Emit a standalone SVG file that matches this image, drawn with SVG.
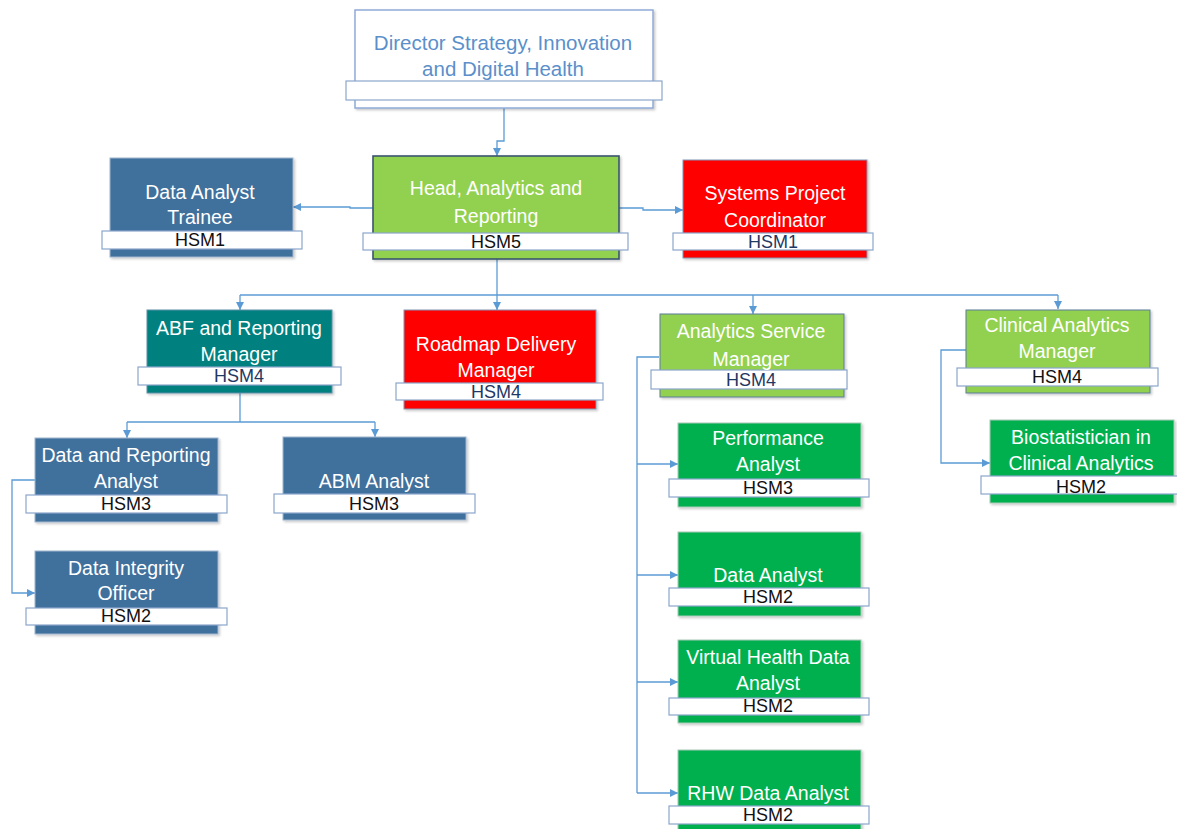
<svg xmlns="http://www.w3.org/2000/svg" width="1177" height="829" viewBox="0 0 1177 829">
  <defs>
    <style>
      .lbl { font-family: "Liberation Sans", Arial, sans-serif; font-size: 19.5px; fill: #ffffff; text-anchor: middle; }
      .dir { font-family: "Liberation Sans", Arial, sans-serif; font-size: 20.5px; fill: #5b8fca; text-anchor: middle; }
      .grade { font-family: "Liberation Sans", Arial, sans-serif; font-size: 18px; fill: #111111; text-anchor: middle; }
      .navy { fill: #1f3864; }
      .bar { fill: #ffffff; stroke: #8aa6cc; stroke-width: 1.2; }
      .box { stroke-width: 1; filter: url(#shadow); }
      .blue { fill: #41709c; stroke: #9fb5cf; }
      .teal { fill: #00807e; stroke: #5f8fa8; }
      .lime { fill: #92d050; stroke: #5d7d9a; }
      .head { fill: #92d050; stroke: #3b556f; stroke-width: 1.6; }
      .red { fill: #ff0000; stroke: #8297b5; }
      .green { fill: #00b050; stroke: #a9c9b5; }
      .white { fill: #ffffff; stroke: #8eaad8; stroke-width: 1.5; }
      .link { fill: none; stroke: #5b9bd5; stroke-width: 1.3; }
    </style>
    <filter id="shadow" x="-5%" y="-5%" width="115%" height="120%">
      <feDropShadow dx="1.5" dy="1.5" stdDeviation="1" flood-color="#000000" flood-opacity="0.22"/>
    </filter>
    <marker id="arrow" viewBox="0 0 8 8" refX="8" refY="4" markerWidth="8" markerHeight="8" markerUnits="userSpaceOnUse" orient="auto">
      <path d="M0,0 L8,4 L0,8 z" fill="#5b9bd5"/>
    </marker>
  </defs>

  <rect width="1177" height="829" fill="#ffffff"/>

  <!-- reporting lines -->
  <g id="connectors">
    <path class="link" d="M504,108 V141 H497 V156" marker-end="url(#arrow)"/>
    <path class="link" d="M373,208 H350 V207 H293" marker-end="url(#arrow)"/>
    <path class="link" d="M619,208 H643 V210 H683" marker-end="url(#arrow)"/>
    <path class="link" d="M497,259 V295"/>
    <path class="link" d="M240,295 H1058"/>
    <path class="link" d="M240,295 V310" marker-end="url(#arrow)"/>
    <path class="link" d="M497,295 V310" marker-end="url(#arrow)"/>
    <path class="link" d="M753,295 V314" marker-end="url(#arrow)"/>
    <path class="link" d="M1058,295 V309" marker-end="url(#arrow)"/>
    <path class="link" d="M240,393 V422 M127,422 H375"/>
    <path class="link" d="M127,422 V438" marker-end="url(#arrow)"/>
    <path class="link" d="M375,422 V437" marker-end="url(#arrow)"/>
    <path class="link" d="M35,480 H12 V593 H35" marker-end="url(#arrow)"/>
    <path class="link" d="M659,357 H637 V793"/>
    <path class="link" d="M637,464 H678" marker-end="url(#arrow)"/>
    <path class="link" d="M637,575 H678" marker-end="url(#arrow)"/>
    <path class="link" d="M637,682 H678" marker-end="url(#arrow)"/>
    <path class="link" d="M637,793 H678" marker-end="url(#arrow)"/>
    <path class="link" d="M966,350 H941 V463 H990" marker-end="url(#arrow)"/>
  </g>

  <g id="director">
    <rect class="box white" x="355" y="10" width="298" height="98"/>
    <rect class="bar" x="346" y="81" width="316" height="19"/>
    <text class="dir" x="503" y="50">Director Strategy, Innovation</text>
    <text class="dir" x="503" y="76">and Digital Health</text>
  </g>

  <g id="head-analytics">
    <rect class="box head" x="373" y="156" width="246" height="103"/>
    <rect class="bar" x="363" y="233" width="265" height="17"/>
    <text class="lbl" x="496" y="195">Head, Analytics and</text>
    <text class="lbl" x="496" y="223">Reporting</text>
    <text class="grade" x="496" y="248">HSM5</text>
  </g>

  <g id="data-analyst-trainee">
    <rect class="box blue" x="110" y="158" width="183" height="99"/>
    <rect class="bar" x="102" y="231" width="200" height="18"/>
    <text class="lbl" x="200" y="199">Data Analyst</text>
    <text class="lbl" x="200" y="224">Trainee</text>
    <text class="grade" x="200" y="246">HSM1</text>
  </g>

  <g id="systems-project-coordinator">
    <rect class="box red" x="683" y="160" width="184" height="98"/>
    <rect class="bar" x="673" y="233" width="200" height="17"/>
    <text class="lbl" x="775" y="200">Systems Project</text>
    <text class="lbl" x="775" y="227">Coordinator</text>
    <text class="grade navy" x="773" y="248">HSM1</text>
  </g>

  <g id="abf-reporting-manager">
    <rect class="box teal" x="147" y="310" width="185" height="83"/>
    <rect class="bar" x="138" y="367" width="203" height="18"/>
    <text class="lbl" x="239" y="335">ABF and Reporting</text>
    <text class="lbl" x="239" y="361">Manager</text>
    <text class="grade navy" x="239" y="382">HSM4</text>
  </g>

  <g id="roadmap-delivery-manager">
    <rect class="box red" x="404" y="310" width="192" height="99"/>
    <rect class="bar" x="396" y="383" width="207" height="17"/>
    <text class="lbl" x="496" y="351">Roadmap Delivery</text>
    <text class="lbl" x="496" y="377">Manager</text>
    <text class="grade navy" x="496" y="398">HSM4</text>
  </g>

  <g id="analytics-service-manager">
    <rect class="box lime" x="660" y="314" width="184" height="83"/>
    <rect class="bar" x="651" y="370" width="196" height="19"/>
    <text class="lbl" x="751" y="338">Analytics Service</text>
    <text class="lbl" x="751" y="366">Manager</text>
    <text class="grade navy" x="751" y="386">HSM4</text>
  </g>

  <g id="clinical-analytics-manager">
    <rect class="box lime" x="966" y="310" width="184" height="83"/>
    <rect class="bar" x="957" y="368" width="201" height="18"/>
    <text class="lbl" x="1057" y="332">Clinical Analytics</text>
    <text class="lbl" x="1057" y="358">Manager</text>
    <text class="grade" x="1057" y="383">HSM4</text>
  </g>

  <g id="data-reporting-analyst">
    <rect class="box blue" x="35" y="438" width="183" height="84"/>
    <rect class="bar" x="26" y="495" width="201" height="18"/>
    <text class="lbl" x="126" y="462">Data and Reporting</text>
    <text class="lbl" x="126" y="488">Analyst</text>
    <text class="grade" x="126" y="510">HSM3</text>
  </g>

  <g id="abm-analyst">
    <rect class="box blue" x="283" y="437" width="183" height="83"/>
    <rect class="bar" x="274" y="494" width="201" height="19"/>
    <text class="lbl" x="374" y="488">ABM Analyst</text>
    <text class="grade" x="374" y="510">HSM3</text>
  </g>

  <g id="data-integrity-officer">
    <rect class="box blue" x="35" y="551" width="183" height="83"/>
    <rect class="bar" x="26" y="608" width="201" height="17"/>
    <text class="lbl" x="126" y="575">Data Integrity</text>
    <text class="lbl" x="126" y="600">Officer</text>
    <text class="grade" x="126" y="622">HSM2</text>
  </g>

  <g id="performance-analyst">
    <rect class="box green" x="678" y="423" width="183" height="84"/>
    <rect class="bar" x="669" y="479" width="200" height="18"/>
    <text class="lbl" x="768" y="445">Performance</text>
    <text class="lbl" x="768" y="471">Analyst</text>
    <text class="grade" x="768" y="494">HSM3</text>
  </g>

  <g id="data-analyst">
    <rect class="box green" x="678" y="532" width="183" height="84"/>
    <rect class="bar" x="669" y="588" width="200" height="18"/>
    <text class="lbl" x="768" y="582">Data Analyst</text>
    <text class="grade" x="768" y="603">HSM2</text>
  </g>

  <g id="virtual-health-data-analyst">
    <rect class="box green" x="678" y="640" width="183" height="83"/>
    <rect class="bar" x="669" y="698" width="200" height="17"/>
    <text class="lbl" x="768" y="664">Virtual Health Data</text>
    <text class="lbl" x="768" y="690">Analyst</text>
    <text class="grade" x="768" y="712">HSM2</text>
  </g>

  <g id="rhw-data-analyst">
    <rect class="box green" x="678" y="750" width="183" height="84"/>
    <rect class="bar" x="669" y="806" width="200" height="18"/>
    <text class="lbl" x="768" y="800">RHW Data Analyst</text>
    <text class="grade" x="768" y="821">HSM2</text>
  </g>

  <g id="biostatistician">
    <rect class="box green" x="990" y="420" width="184" height="83"/>
    <rect class="bar" x="981" y="476" width="200" height="18"/>
    <text class="lbl" x="1081" y="444">Biostatistician in</text>
    <text class="lbl" x="1081" y="470">Clinical Analytics</text>
    <text class="grade" x="1081" y="493">HSM2</text>
  </g>
</svg>
